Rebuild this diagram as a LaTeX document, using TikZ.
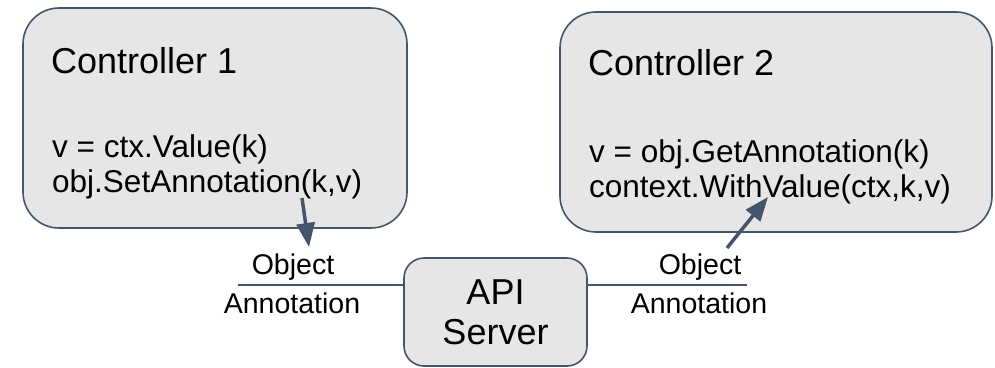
\documentclass[tikz,border=0pt]{standalone}
\usepackage{fontspec}
\setmainfont{Liberation Sans}
\usetikzlibrary{arrows.meta}
\definecolor{boxfill}{HTML}{E6E6E6}
\definecolor{slate}{HTML}{44546A}
\tikzset{
  ctrlbox/.style={draw=slate, line width=1.6pt, fill=boxfill, rounded corners=36pt, inner sep=0pt},
  apibox/.style={draw=slate, line width=1.6pt, fill=boxfill, rounded corners=20pt, inner sep=0pt, align=center, font=\fontsize{36}{40}\selectfont},
  titletext/.style={anchor=base west, inner sep=0pt, font=\fontsize{36}{40}\selectfont},
  codetext/.style={anchor=base west, inner sep=0pt, font=\fontsize{31.5}{35}\selectfont},
  labeltext/.style={inner sep=0pt, font=\fontsize{28.5}{32}\selectfont},
  link/.style={draw=slate, line width=1.5pt},
  flow/.style={draw=slate, line width=3.5pt, -{Triangle[length=24pt,width=18pt]}}
}
\begin{document}
\begin{tikzpicture}[x=1pt,y=-1pt]
\useasboundingbox (0,0) rectangle (995,367);
% boxes
\node[ctrlbox, minimum width=384pt, minimum height=220pt] (c1) at (215,118) {};
\node[ctrlbox, minimum width=432pt, minimum height=220pt] (c2) at (776,122) {};
\node[apibox, minimum width=183pt, minimum height=108pt] (api) at (495.5,312) {API\\Server};
% controller texts
\node[titletext] (t1) at (51,73) {Controller 1};
\node[codetext] (c1a) at (52,157) {v = ctx.Value(k)};
\node[codetext] (c1b) at (52,192) {obj.SetAnnotation(k,v)};
\node[titletext] (t2) at (588,75) {Controller 2};
\node[codetext] (c2a) at (589,162) {v = obj.GetAnnotation(k)};
\node[codetext] (c2b) at (589,197) {context.WithValue(ctx,k,v)};
% labels
\node[labeltext] (o1) at (293,267) {Object};
\node[labeltext] (a1) at (292,303) {Annotation};
\node[labeltext] (o2) at (700,267) {Object};
\node[labeltext] (a2) at (699,303) {Annotation};
% connectors
\coordinate (l1) at (238,285);
\coordinate (r2) at (747,285);
\draw[link] (l1) -- (api.west |- l1);
\draw[link] (api.east |- r2) -- (r2);
\coordinate (s1) at (302,198);
\coordinate (e1) at (309,247);
\coordinate (s2) at (727,248);
\coordinate (e2) at (768,197);
\draw[flow] (s1) -- (e1);
\draw[flow] (s2) -- (e2);
\end{tikzpicture}
\end{document}
